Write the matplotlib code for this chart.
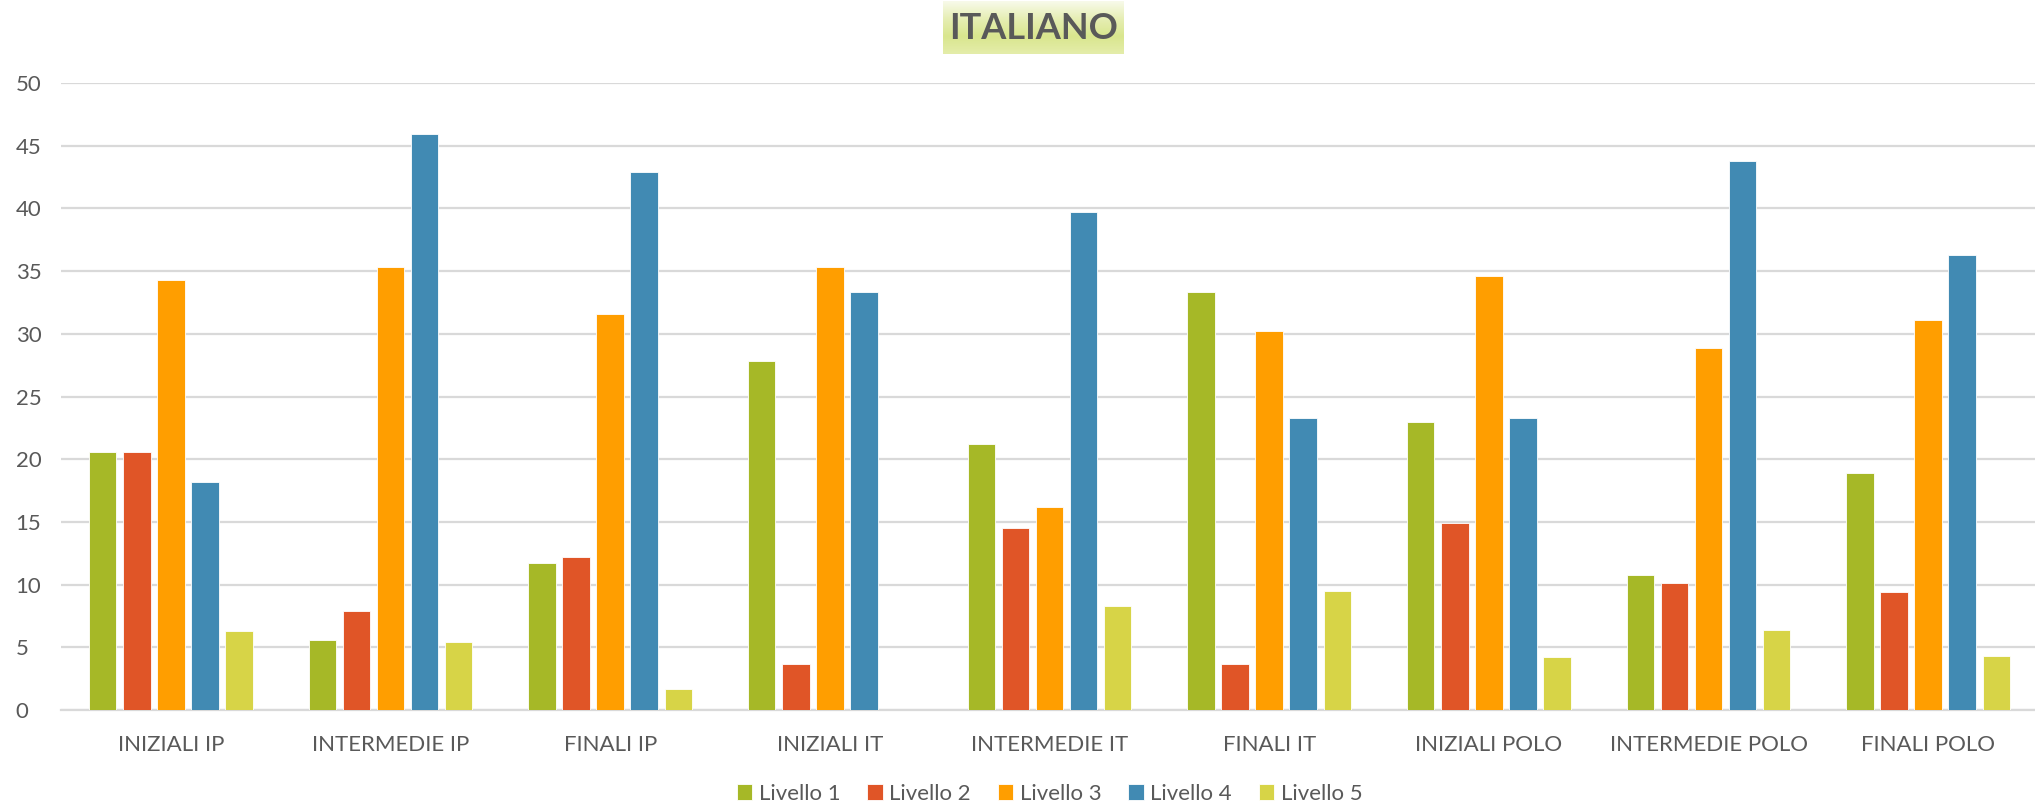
import numpy as np
import matplotlib
matplotlib.use('Agg')
import matplotlib.pyplot as plt
from matplotlib.colors import LinearSegmentedColormap

plt.rcParams['font.family'] = ['Lato', 'DejaVu Sans']

categorie = ['INIZIALI IP', 'INTERMEDIE IP', 'FINALI IP', 'INIZIALI IT', 'INTERMEDIE IT',
             'FINALI IT', 'INIZIALI POLO', 'INTERMEDIE POLO', 'FINALI POLO']
livelli = ['Livello 1', 'Livello 2', 'Livello 3', 'Livello 4', 'Livello 5']
livello_1 = [20.6, 5.6, 11.7, 27.8, 21.2, 33.3, 23.0, 10.8, 18.9]
livello_2 = [20.6, 7.9, 12.2, 3.7, 14.5, 3.7, 14.9, 10.1, 9.4]
livello_3 = [34.3, 35.3, 31.6, 35.3, 16.2, 30.2, 34.6, 28.9, 31.1]
livello_4 = [18.2, 45.9, 42.9, 33.3, 39.7, 23.3, 23.3, 43.8, 36.3]
livello_5 = [6.3, 5.4, 1.7, 0.0, 8.3, 9.5, 4.2, 6.4, 4.3]
serie = [livello_1, livello_2, livello_3, livello_4, livello_5]
colori = ['#A6B827', '#E05527', '#FF9E00', '#418AB3', '#D7D447']

fig = plt.figure(figsize=(20.35, 8.07), dpi=100)
ax = fig.add_axes([61 / 2035, 1 - 710 / 807, (2038 - 61) / 2035, (710 - 83) / 807])

x = np.arange(len(categorie))
passo = 0.155
larg = 0.125
for k, (vals, col, lab) in enumerate(zip(serie, colori, livelli)):
    ax.bar(x + (k - 2) * passo, vals, larg, color=col, label=lab, zorder=3,
           edgecolor='white', linewidth=0.6)

ax.set_xlim(-0.5, len(categorie) - 0.5)
ax.set_ylim(0, 50)
ax.set_yticks(range(0, 51, 5))
ax.yaxis.grid(True, color='#D9D9D9', linewidth=1.6, zorder=0)
ax.set_axisbelow(True)
for s in ['top', 'right', 'left']:
    ax.spines[s].set_visible(False)
ax.spines['bottom'].set_color('#D9D9D9')
ax.spines['bottom'].set_linewidth(1.6)
ax.tick_params(axis='both', length=0, colors='#595959', labelsize=16)
ax.tick_params(axis='x', pad=18)
ax.set_xticks(x)
ax.set_xticklabels(categorie)
for t in ax.get_yticklabels():
    t.set_horizontalalignment('left')
    t.set_x(-0.0205)

leg = ax.legend(loc='center', bbox_to_anchor=(0.5, (710 - 794) / (710 - 83)), ncol=5, frameon=False,
                fontsize=16, handlelength=0.7, handleheight=0.7, handletextpad=0.3, columnspacing=1.2,
                labelcolor='#595959')

# titolo con sfondo sfumato
tax = fig.add_axes([943 / 2035, 1 - 54 / 807, (1124 - 943) / 2035, 53 / 807])
cmap = LinearSegmentedColormap.from_list('t', ['#F8FAEA', '#E6EEB4', '#D9E68E', '#E4EDAA'])
grad = np.linspace(0, 1, 100).reshape(-1, 1)
tax.imshow(grad, aspect='auto', cmap=cmap, extent=[0, 1, 0, 1], origin='upper')
tax.set_axis_off()
tax.text(0.5, 0.48, 'ITALIANO', ha='center', va='center', fontsize=26, fontweight='bold',
         color='#595959', transform=tax.transAxes)

fig.savefig('out.png', dpi=100)
